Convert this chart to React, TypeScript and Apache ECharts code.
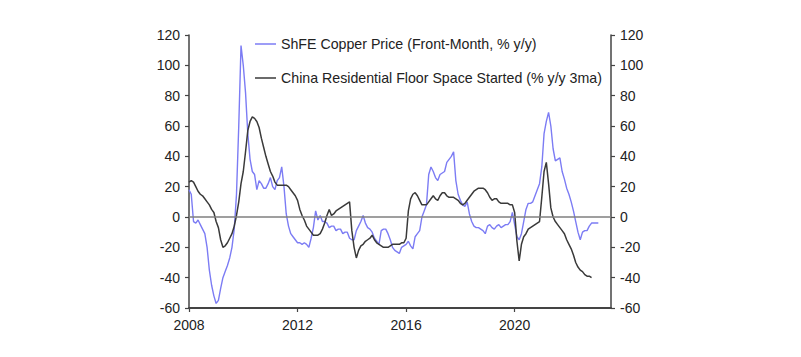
import React, { useEffect, useRef } from "react";
import * as echarts from "echarts";

// Monthly series, starting January 2008
const copperStart = "2008-01";
const copperValues: number[] = [
  // 2008
  18, 15, -3, -4, -2, -5, -8, -11, -20, -35, -45, -52,
  // 2009
  -57, -55, -47, -40, -36, -32, -27, -20, -8, 15, 60, 113,
  // 2010
  100, 82, 55, 38, 30, 28, 18, 24, 22, 19, 19, 22,
  // 2011
  26, 20, 18, 24, 26, 33, 20, 2, -6, -11, -13, -15,
  // 2012
  -17, -17, -18, -17, -18, -20, -14, -7, 4, -2, 1, -3,
  // 2013
  -3, -4, -7, -6, -6, -9, -8, -8, -11, -10, -10, -14,
  // 2014
  -15, -15, -9, -6, -3, 1, -4, -7, -8, -10, -14, -16,
  // 2015
  -18, -9, -8, -8, -11, -15, -20, -22, -23, -24, -20, -19,
  // 2016
  -18, -16, -19, -21, -13, -11, -9, 0, 4, 8, 28, 33,
  // 2017
  30, 26, 24, 28, 29, 30, 36, 38, 40, 43, 24, 15,
  // 2018
  11, 8, 7, 10, 2, -3, -6, -7, -7, -8, -9, -11,
  // 2019
  -6, -5, -7, -8, -6, -5, -7, -6, -5, -5, -3, 3,
  // 2020
  -5, -13, -15, -11, -3, 5, 9, 9, 10, 14, 18, 22,
  // 2021
  33, 55, 63, 69, 60, 45, 37, 38, 39, 30, 25, 19,
  // 2022
  15, 10, 4, -3, -10, -15, -10, -9, -9, -6, -4, -4,
  // 2023
  -4, -4,
];

const floorStart = "2008-01";
const floorValues: number[] = [
  // 2008
  23, 24, 23, 20, 17, 15, 14, 12, 10, 8, 5, 3,
  // 2009
  -3, -7, -15, -20, -19, -17, -14, -11, -6, 1, 10, 22,
  // 2010
  30, 43, 57, 63, 66, 65, 63, 59, 52, 46, 40, 35,
  // 2011
  30, 27, 23, 21, 21, 21, 21, 21, 20, 18, 16, 14,
  // 2012
  11, 5, 1, -2, -6, -8, -10, -12, -12, -12, -11, -8,
  // 2013
  -4, 1, 5, 1, 2, 4, 5, 6, 7, 8, 9, 10,
  // 2014
  -9, -20, -27, -22, -19, -18, -16, -15, -14, -12, -15, -17,
  // 2015
  -18, -19, -20, -20, -20, -19, -18, -18, -18, -18, -17, -17,
  // 2016
  -14, 4, 12, 15, 16, 14, 11, 8, 8, 8, 10, 12,
  // 2017
  14, 12, 11, 14, 16, 16, 14, 13, 13, 13, 12, 11,
  // 2018
  9, 8, 9, 11, 13, 15, 17, 18, 19, 19, 19, 18,
  // 2019
  16, 13, 11, 12, 12, 10, 9, 9, 9, 9, 8, 8,
  // 2020
  3, -16, -29, -18, -13, -11, -8, -7, -6, -5, -4, -3,
  // 2021
  13, 30, 36, 22, 6, 0, -3, -5, -7, -9, -11, -15,
  // 2022
  -18, -21, -25, -30, -33, -35, -36, -38, -39, -39, -40,
];

const xTickYears = [2008, 2012, 2016, 2020];
const yTicks = [-60, -40, -20, 0, 20, 40, 60, 80, 100, 120];

const copperName = "ShFE Copper Price (Front-Month, % y/y)";
const floorName = "China Residential Floor Space Started (% y/y 3ma)";

function monthlySeries(start: string, values: number[]): [number, number][] {
  const [y, m] = start.split("-").map(Number);
  return values.map((v, i) => {
    const idx = (m - 1) + i;
    const year = y + Math.floor(idx / 12);
    const month = idx % 12;
    return [year + month / 12, v];
  });
}

const FONT = "'Liberation Sans', Arial, Helvetica, sans-serif";
const BLUE = "#7c7cf4";
const DARK = "#3a3a3a";

export default function App() {
  const ref = useRef<HTMLDivElement>(null);

  useEffect(() => {
    if (!ref.current) return;
    const chart = echarts.init(ref.current, undefined, { renderer: "svg" });

    const yAxisBase = (position: "left" | "right") => ({
      type: "value" as const,
      position,
      min: yTicks[0],
      max: yTicks[yTicks.length - 1],
      interval: 20,
      axisLine: { show: true, lineStyle: { color: "#444", width: 1.5 } },
      axisTick: { show: true, inside: false, length: 4, lineStyle: { color: "#444", width: 1.2 } },
      axisLabel: { color: "#222", fontSize: 14, fontFamily: FONT, margin: 9 },
      splitLine: { show: false },
    });

    chart.setOption({
      animation: false,
      backgroundColor: "#ffffff",
      textStyle: { fontFamily: FONT },
      grid: { left: 189, right: 190, top: 35, bottom: 49, containLabel: false },
      legend: {
        orient: "vertical",
        left: 250,
        top: 32,
        icon: "rect",
        itemWidth: 21,
        itemHeight: 1.5,
        itemGap: 20,
        textStyle: { color: "#222", fontSize: 14.2, fontFamily: FONT },
        data: [copperName, floorName],
      },
      xAxis: {
        type: "value",
        min: xTickYears[0],
        max: 2023.55,
        interval: 4,
        axisLine: { show: true, onZero: false, lineStyle: { color: "#444", width: 2 } },
        axisTick: { show: true, inside: false, length: 4, lineStyle: { color: "#444", width: 1.2 } },
        axisLabel: {
          color: "#222",
          fontSize: 14,
          fontFamily: FONT,
          margin: 10,
          showMaxLabel: false,
          formatter: (v: number) => (xTickYears.includes(Math.round(v)) ? String(Math.round(v)) : ""),
        },
        splitLine: { show: false },
      },
      yAxis: [yAxisBase("left"), yAxisBase("right")],
      series: [
        {
          name: copperName,
          type: "line",
          yAxisIndex: 0,
          data: monthlySeries(copperStart, copperValues),
          symbol: "none",
          showSymbol: false,
          lineStyle: { color: BLUE, width: 1.4 },
          itemStyle: { color: BLUE },
          z: 2,
          markLine: {
            silent: true,
            symbol: "none",
            label: { show: false },
            lineStyle: { color: "#7f7f7f", width: 1.5, type: "solid" },
            data: [{ yAxis: 0 }],
          },
        },
        {
          name: floorName,
          type: "line",
          yAxisIndex: 1,
          data: monthlySeries(floorStart, floorValues),
          symbol: "none",
          showSymbol: false,
          lineStyle: { color: DARK, width: 1.5 },
          itemStyle: { color: DARK },
          z: 3,
        },
      ],
    });

    return () => chart.dispose();
  }, []);

  return (
    <div
      ref={ref}
      style={{ position: "fixed", left: 0, top: 0, width: 801, height: 357, background: "#fff" }}
    />
  );
}
